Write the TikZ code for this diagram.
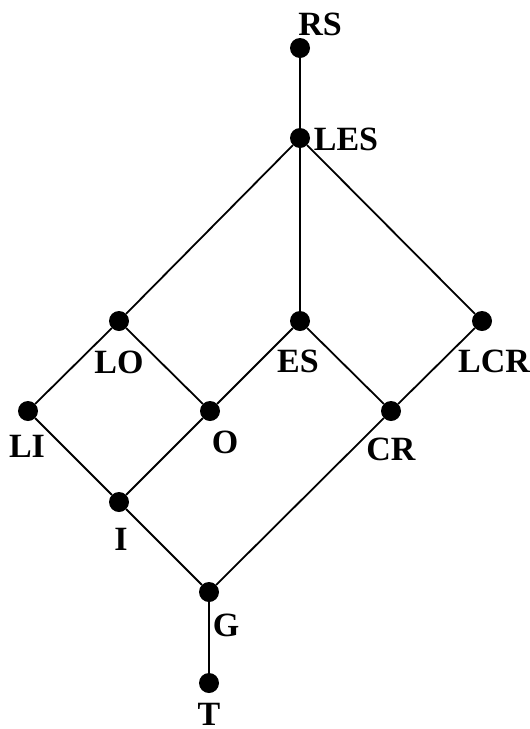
\documentclass[tikz,border=0pt]{standalone}
\usepackage{fontspec}
\setmainfont{Liberation Serif}
\begin{document}
\begin{tikzpicture}[x=1pt,y=-1pt,
  dot/.style={circle,fill=black,inner sep=0pt,minimum size=20pt},
  lbl/.style={font=\fontsize{34}{34}\selectfont\bfseries,inner sep=0pt},
  edge/.style={line width=1.8pt}]
\useasboundingbox (0,0) rectangle (530,729);
\node[dot] (RS) at (300,48) {};
\node[dot] (LES) at (300,138) {};
\node[dot] (LO) at (119,321) {};
\node[dot] (ES) at (300,321) {};
\node[dot] (LCR) at (482,321) {};
\node[dot] (LI) at (28,411) {};
\node[dot] (O) at (210,411) {};
\node[dot] (CR) at (391,411) {};
\node[dot] (I) at (119,502) {};
\node[dot] (G) at (209,592) {};
\node[dot] (T) at (209,683) {};
\node[lbl] (lRS) at (320,24) {RS};
\node[lbl] (lLES) at (346,139) {LES};
\node[lbl] (lLO) at (119,362) {LO};
\node[lbl] (lES) at (298,361) {ES};
\node[lbl] (lLCR) at (494,361) {LCR};
\node[lbl] (lLI) at (27,446) {LI};
\node[lbl] (lO) at (225,442) {O};
\node[lbl] (lCR) at (391,449) {CR};
\node[lbl] (lI) at (121,539) {I};
\node[lbl] (lG) at (226,625) {G};
\node[lbl] (lT) at (209,714) {T};
\draw[edge] (RS) -- (LES);
\draw[edge] (LES) -- (LO);
\draw[edge] (LES) -- (ES);
\draw[edge] (LES) -- (LCR);
\draw[edge] (LO) -- (LI);
\draw[edge] (LO) -- (O);
\draw[edge] (ES) -- (O);
\draw[edge] (ES) -- (CR);
\draw[edge] (LCR) -- (CR);
\draw[edge] (LI) -- (I);
\draw[edge] (O) -- (I);
\draw[edge] (I) -- (G);
\draw[edge] (CR) -- (G);
\draw[edge] (G) -- (T);
\end{tikzpicture}
\end{document}
